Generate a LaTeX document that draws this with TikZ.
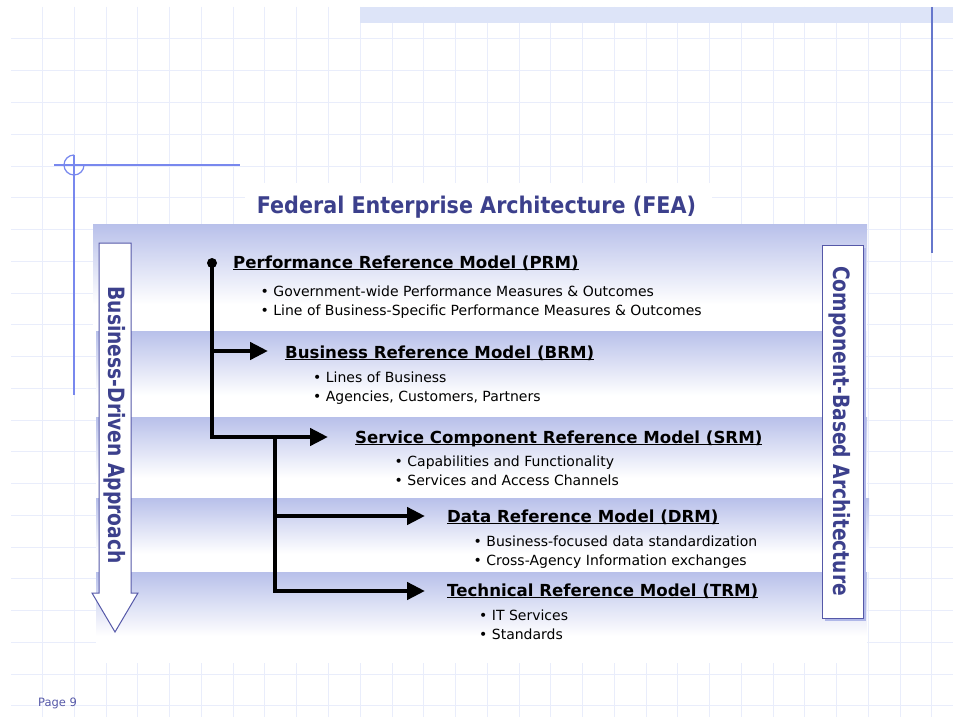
\documentclass[tikz,border=0pt]{standalone}
\usepackage{fontspec}
\setmainfont{DejaVu Sans}
\newfontfamily\titlefont{DejaVu Sans}[FakeStretch=0.9]
\newfontfamily\sidefont{DejaVu Sans}[FakeStretch=0.83]
\usetikzlibrary{arrows.meta}
\definecolor{bandc}{RGB}{184,192,234}
\definecolor{gridc}{RGB}{233,237,251}
\definecolor{stripc}{RGB}{221,228,248}
\definecolor{decoc}{RGB}{120,136,238}
\definecolor{vlinec}{RGB}{102,119,204}
\definecolor{titlec}{RGB}{60,64,140}
\definecolor{boxline}{RGB}{85,88,168}
\definecolor{shadowc}{RGB}{176,184,232}
\newcommand\ulx[1]{\leavevmode\setbox0\hbox{#1}\rlap{\rule[-2.4pt]{\wd0}{1.4pt}}\box0}
\begin{document}
\begin{tikzpicture}[x=1pt,y=-1pt,
  hdr/.style={anchor=base west, inner sep=0pt, font=\bfseries\fontsize{16.6}{20}\selectfont},
  blt/.style={anchor=base west, inner sep=0pt, font=\fontsize{14}{17}\selectfont},
  conn/.style={line width=4.4pt, black, line join=miter},
  arr/.style={conn, -{Triangle[length=18pt,width=17pt]}},
  gridline/.style={gridc, line width=1pt},
  side/.style={rotate=-90, anchor=base, inner sep=0pt, text=titlec, font=\sidefont\bfseries\fontsize{22.5}{26}\selectfont}]
\useasboundingbox (0,0) rectangle (953,717);
\fill[white] (0,0) rectangle (953,717);
% grid
\foreach \i in {1,...,29} \draw[gridline] ({10.9+31.76*\i},7) -- ({10.9+31.76*\i},717);
\foreach \j in {1,...,22} \draw[gridline] (11,{7.2+31.76*\j}) -- (953,{7.2+31.76*\j});
% top strip and decorations
\fill[stripc] (360,7) rectangle (953,23);
\draw[vlinec, line width=1.2pt] (932,7) -- (932,253);
\draw[decoc, line width=1.2pt] (54,165) -- (240,165);
\draw[decoc, line width=1.2pt] (74,155) -- (74,395);
\draw[decoc, line width=1.2pt] (84,165) arc[start angle=0,end angle=270,radius=10];
% title
\fill[white] (245,183) rectangle (712,224);
\node[anchor=base, inner sep=0pt, text=titlec, font=\titlefont\bfseries\fontsize{23}{27}\selectfont] (title) at (476.5,213) {Federal Enterprise Architecture (FEA)};
% bands
\fill[white] (93,657) rectangle (868,663);
\foreach \t/\b/\l/\r in {224/331/93/867, 331/417/96/866, 417/498/96/867, 498/572/96/869, 572/657/96/867} {
  \fill[white] (\l,\t) rectangle (\r,\b);
  \shade[top color=bandc, bottom color=white] (\l,\t) rectangle (\r,{\t+0.75*(\b-\t)});
}
% left arrow
\draw[boxline, fill=white, line width=1pt] (99,243) -- (131,243) -- (131,593) -- (138,593) -- (115,632) -- (92,593) -- (99,593) -- cycle;
\node[side] (bda) at (108,425) {Business-Driven Approach};
% right box
\fill[shadowc] (825,248) rectangle (866,621);
\draw[boxline, fill=white, line width=1pt] (822,245) rectangle (863,618);
\node[side] (cba) at (833,431) {Component-Based Architecture};
% headers
\node[hdr] (prm) at (233,268) {\ulx{Performance Reference Model (PRM)}};
\node[hdr] (brm) at (285,358) {\ulx{Business Reference Model (BRM)}};
\node[hdr] (srm) at (355,443) {\ulx{Service Component Reference Model (SRM)}};
\node[hdr] (drm) at (447,522) {\ulx{Data Reference Model (DRM)}};
\node[hdr] (trm) at (447,596) {\ulx{Technical Reference Model (TRM)}};
% bullets
\node[blt] (prm1) at (260.5,296) {• Government-wide Performance Measures \& Outcomes};
\node[blt] (prm2) at (260.5,315) {• Line of Business-Specific Performance Measures \& Outcomes};
\node[blt] (brm1) at (313,382) {• Lines of Business};
\node[blt] (brm2) at (313,401) {• Agencies, Customers, Partners};
\node[blt] (srm1) at (394.5,466) {• Capabilities and Functionality};
\node[blt] (srm2) at (394.5,485) {• Services and Access Channels};
\node[blt] (drm1) at (473.5,546) {• Business-focused data standardization};
\node[blt] (drm2) at (473.5,565) {• Cross-Agency Information exchanges};
\node[blt] (trm1) at (479,620) {• IT Services};
\node[blt] (trm2) at (479,639) {• Standards};
% connectors
\coordinate (j0) at (212,263);
\coordinate (jb) at (212,351);
\coordinate (js) at (212,437);
\coordinate (k0) at (275,437);
\coordinate (kd) at (275,516);
\coordinate (kt) at (275,591);
\coordinate (eb) at (268,351);
\coordinate (es) at (328,437);
\coordinate (ed) at (425,516);
\coordinate (et) at (425,591);
\fill (j0) circle[radius=5];
\draw[arr] (j0) -- (js) -- (es);
\draw[arr] (jb) -- (eb);
\draw[arr] (k0) -- (kt) -- (et);
\draw[arr] (kd) -- (ed);
% page number
\node[anchor=base west, inner sep=0pt, text=boxline, font=\fontsize{11.5}{14}\selectfont] (page) at (38,706) {Page 9};
\end{tikzpicture}
\end{document}
